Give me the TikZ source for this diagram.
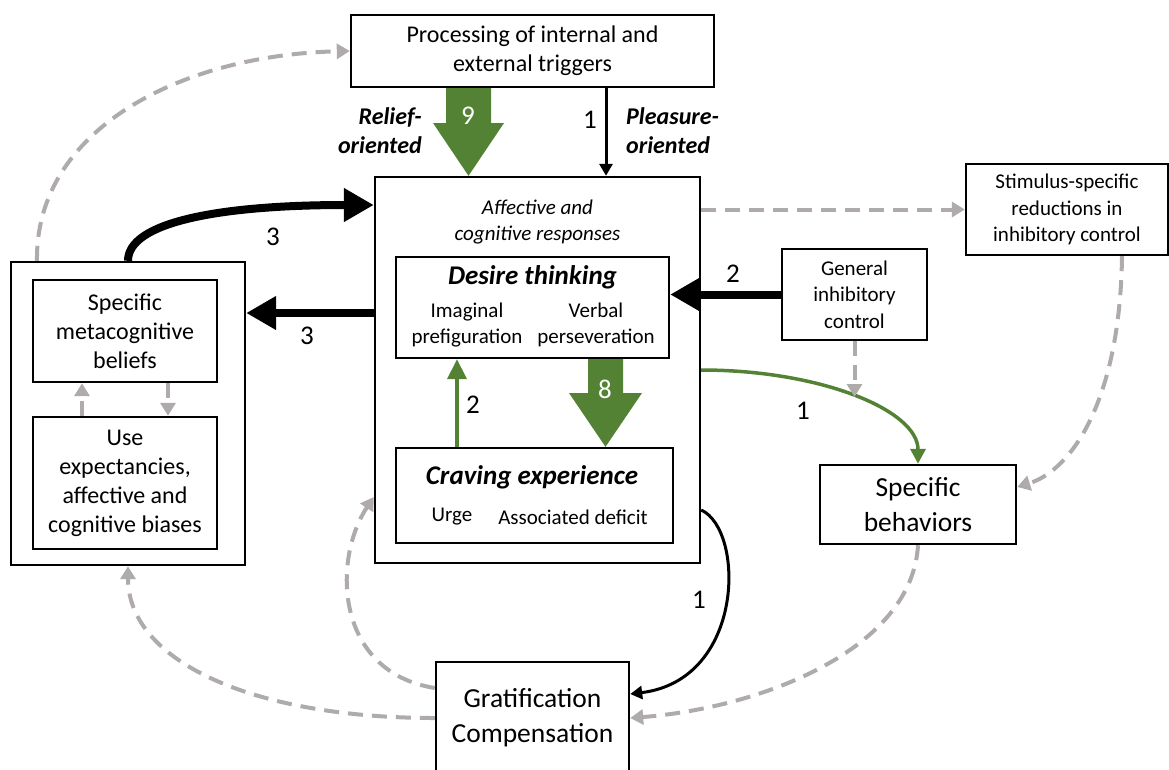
\documentclass[tikz,border=0pt]{standalone}
\usepackage{fontspec}
\setmainfont{Carlito}
\usetikzlibrary{arrows.meta,calc}
\definecolor{fgreen}{RGB}{84,130,53}
\definecolor{lgray}{RGB}{175,171,171}
\newcommand{\fsMain}{\fontsize{24}{29}\selectfont}
\newcommand{\fsSmall}{\fontsize{21}{26.5}\selectfont}
\newcommand{\fsBig}{\fontsize{27.5}{35}\selectfont}
\newcommand{\fsTitle}{\fontsize{27}{32}\selectfont}
\newcommand{\fsNum}{\fontsize{27}{32}\selectfont}
\tikzset{
  box/.style={draw=black, line width=2.4pt, inner sep=0pt, align=center},
  grayflow/.style={draw=lgray, line width=4pt, dash pattern=on 15pt off 9pt,
    -{Triangle[length=13pt,width=15pt]}},
  heavy/.style={draw=black, line width=8pt, -{Triangle[length=30pt,width=32pt]}},
  thinblack/.style={draw=black, line width=3pt, -{Triangle[length=12pt,width=13pt]}},
  greenthin/.style={draw=fgreen, line width=4pt, -{Triangle[length=20pt,width=19pt]}},
  greencurve/.style={draw=fgreen, line width=3.5pt, -{Triangle[length=15pt,width=15pt]}},
  num/.style={font=\fsNum, inner sep=0pt},
  blockarrow/.style={fill=fgreen}
}
\begin{document}
\begin{tikzpicture}[x=1pt,y=-1pt]
\useasboundingbox (0,0) rectangle (1169,769);

% ---- boxes ----
\node[box, minimum width=363pt, minimum height=72pt, font=\fsMain] (proc) at (532.5,51)
  {Processing of internal and\\external triggers};
\node[box, minimum width=325pt, minimum height=386pt] (main) at (537.5,370) {};
\node[font=\fsSmall\itshape, align=center, inner sep=0pt] (aff) at (537.5,222)
  {Affective and\\cognitive responses};

\node[box, minimum width=273pt, minimum height=101pt] (desire) at (532.5,307.5) {};
\node[font=\fsTitle\bfseries\itshape, inner sep=0pt] (desT) at (532.5,277) {Desire thinking};
\node[font=\fsSmall, align=center, inner sep=0pt] (img) at (467,325) {Imaginal\\prefiguration};
\node[font=\fsSmall, align=center, inner sep=0pt] (verb) at (596,325) {Verbal\\perseveration};

\node[box, minimum width=277pt, minimum height=95pt] (craving) at (534.5,495.5) {};
\node[font=\fsTitle\bfseries\itshape, inner sep=0pt] (crT) at (532,477) {Craving experience};
\node[font=\fsSmall, inner sep=0pt] (urge) at (452,517) {Urge};
\node[font=\fsSmall, inner sep=0pt] (assoc) at (573,517) {Associated deficit};

\node[box, minimum width=234pt, minimum height=303pt] (outer) at (128,413.5) {};
\node[box, minimum width=184pt, minimum height=102pt, font=\fsMain] (meta) at (125,331)
  {Specific\\metacognitive\\beliefs};
\node[box, minimum width=184pt, minimum height=132pt, font=\fsMain] (use) at (125,483)
  {Use\\expectancies,\\affective and\\cognitive biases};

\node[box, minimum width=202pt, minimum height=91pt, font=\fsSmall] (stim) at (1067,209.5)
  {Stimulus-specific\\reductions in\\inhibitory control};
\node[box, minimum width=145pt, minimum height=91pt, font=\fsSmall] (gen) at (854.5,294.5)
  {General\\inhibitory\\control};
\node[box, minimum width=196pt, minimum height=79pt, font=\fsBig] (beh) at (918,504.5)
  {Specific\\behaviors};
\node[box, minimum width=193pt, minimum height=112pt, font=\fsBig] (grat) at (532.5,718)
  {Gratification\\Compensation};

% ---- side labels ----
\node[font=\fsMain\bfseries\itshape, align=right, anchor=east, inner sep=0pt] (relief)
  at (422,131) {Relief-\\oriented};
\node[font=\fsMain\bfseries\itshape, align=left, anchor=west, inner sep=0pt] (pleas)
  at (626,131) {Pleasure-\\oriented};

% ---- green block arrows ----
\fill[blockarrow] (446,0 |- proc.south) -- (491,0 |- proc.south) -- (491,123) -- (504,123)
  -- (468.5,0 |- main.north) -- (433,123) -- (446,123) -- cycle;
\node[num, text=white] (n9) at (468,116) {9};

\fill[blockarrow] (588,0 |- desire.south) -- (623,0 |- desire.south) -- (623,393) -- (642,393)
  -- (605.5,0 |- craving.north) -- (569,393) -- (588,393) -- cycle;
\node[num, text=white] (n8) at (605,389) {8};

% ---- solid connectors ----
\draw[thinblack] (606,0 |- proc.south) -- (606,0 |- main.north);
\node[num] (n1a) at (590,120) {1};

\draw[heavy] (gen.west) -- (gen.west -| desire.east);
\node[num] (n2a) at (733,274) {2};

\draw[heavy] (main.west |- 0,313) -- (outer.east |- 0,313);
\node[num] (n3a) at (307,336) {3};

\draw[heavy] (outer.north) .. controls (128,222) and (220,205) .. (main.west |- 0,205);
\node[num] (n3b) at (273,237) {3};

\draw[greenthin] (457,0 |- craving.north) -- (457,0 |- desire.south);
\node[num] (n2b) at (473,405) {2};

\draw[greencurve] (main.east) .. controls (820,370) and (918,410) .. (beh.north);
\node[num] (n1b) at (803,411) {1};

\draw[thinblack] (main.east |- 0,510) .. controls (745,530) and (745,680) .. (grat.east |- 0,694);
\node[num] (n1c) at (699,600) {1};

% ---- dashed feedback connectors ----
\draw[grayflow] (37,0 |- outer.north) .. controls (35,130) and (180,55) .. (proc.west);
\draw[grayflow] (main.east |- stim.west) -- (stim.west);
\coordinate (hitgreen) at (854.5,397);
\draw[grayflow] (gen.south) -- (hitgreen);
\draw[grayflow] (1122,0 |- stim.south) .. controls (1120,400) and (1072,470) .. (beh.east |- 0,487);
\draw[grayflow] (beh.south) .. controls (912,650) and (760,708) .. (grat.east);
\draw[grayflow] (grat.west) .. controls (250,718) and (128,660) .. (outer.south);
\draw[grayflow] (grat.west |- 0,688) .. controls (335,672) and (332,560) .. (main.west |- 0,497);

\draw[grayflow] (82,0 |- use.north) -- (82,0 |- meta.south);
\draw[grayflow] (168,0 |- meta.south) -- (168,0 |- use.north);
\end{tikzpicture}
\end{document}
